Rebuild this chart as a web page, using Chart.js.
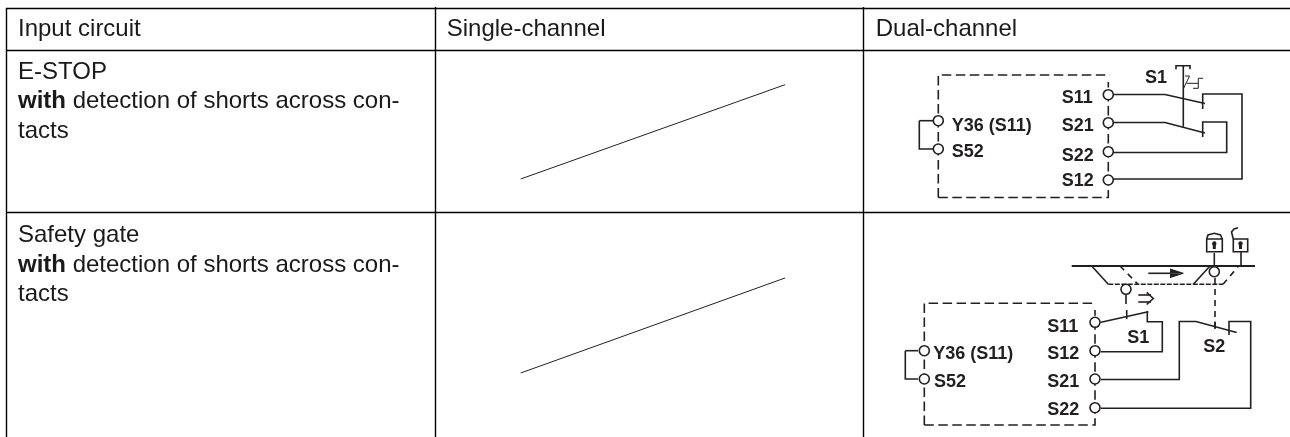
<!DOCTYPE html>
<html>
<head>
<meta charset="utf-8">
<script src="https://cdn.jsdelivr.net/npm/chart.js@4"></script>
<style>
  html,body{margin:0;padding:0;background:#fff;}
  #wrap{position:relative;width:1290px;height:437px;}
  canvas{display:block;}
</style>
</head>
<body>
<div id="wrap"><canvas id="chart" width="1290" height="437"></canvas></div>
<script>
// table rules
const gridLines = [
  [[6,8.5],[1290,8.5]],
  [[6,50.5],[1290,50.5]],
  [[6,212.5],[1290,212.5]],
  [[6.5,8],[6.5,437]],
  [[435.5,7],[435.5,437]],
  [[863.5,7],[863.5,437]]
];
// the struck-out "Single-channel" cells
const strikeLines = [
  [[520.7,179],[785,84.7]],
  [[520.7,373],[785,278]]
];
// E-STOP circuit
const estopWires = [
  [[919.3,120.7],[919.3,149],[933,149]],
  [[919.3,120.7],[933,120.7]],
  [[1113,94.5],[1165,94.5],[1205,103.5]],
  [[1202.7,109],[1202.7,94],[1242,94],[1242,179],[1113,179]],
  [[1113,122.5],[1165,122.5],[1205,133]],
  [[1202.7,137],[1202.7,122],[1226.7,122],[1226.7,152.5],[1113,152.5]],
  [[1183.3,66],[1183.3,126.7]],
  [[1176,69.3],[1176,65.7],[1190,65.7],[1190,69.3]]
];
const estopThin = [
  [[1185,76],[1189.5,76],[1183.5,88.5]],
  [[1186.7,83.3],[1198.3,83.3]],
  [[1193,88.3],[1198.3,88.3],[1198.3,78.3],[1203,78.3]]
];
const estopBox = [
  [[938.3,197.5],[938.3,75],[1110,75]],
  [[938.3,197.5],[1108.3,197.5],[1108.3,82]]
];
// safety gate circuit
const gateWires = [
  [[905.3,350.7],[905.3,379],[918,379]],
  [[905.3,350.7],[918,350.7]],
  [[1101,322.3],[1148.3,311.7]],
  [[1147.3,311],[1147.3,321.7],[1162.3,321.7],[1162.3,351.7],[1101,351.7]],
  [[1101,379.5],[1179.3,379.5],[1179.3,321.5],[1196,321.5],[1236.7,332.5]],
  [[1229,335],[1229,321.5],[1250.7,321.5],[1250.7,408.3],[1101,408.3]],
  [[1126.7,310],[1126.7,319]],
  [[1215,321.5],[1215,329]],
  [[1126,295],[1126,304]],
  [[1214.3,253],[1214.3,266]],
  [[1241,251.7],[1241,266]],
  [[1148.3,273.3],[1170,273.3]],
  [[1138.3,295],[1151,295]],
  [[1138.3,302],[1151,302]],
  [[1146.7,292.3],[1153.3,298.5],[1146.7,304.5]],
  [[1206.7,239],[1222.3,239],[1222.3,251.7],[1206.7,251.7],[1206.7,239]],
  [[1233.3,239],[1247.7,239],[1247.7,251.7],[1233.3,251.7],[1233.3,239]],
  [[1206.7,239],[1208,235],[1214.3,233.3],[1220.5,235],[1222.3,239]],
  [[1233.3,239],[1231.5,232],[1234,229],[1238,227.7]],
  [[1091.7,266],[1108.3,284.3]],
  [[1193.3,284.3],[1210,266]]
];
const gateRail = [[[1071.7,266],[1255,266]]];
const gateBox = [
  [[924.3,425],[924.3,303.3],[1096,303.3]],
  [[924.3,425],[1095,425],[1095,310]]
];
const gateDashes = [
  [[1120,266],[1138,284.3]],
  [[1215,278],[1215,328]],
  [[1223,284.3],[1238,266.7]]
];
const gateFineDash = [[[1108.3,284.3],[1223,284.3]]];
const arrowUpper = [[1170,269],[1183.3,273.3]];
const arrowLower = [[1170,277.6],[1183.3,273.3]];
const keyholes = [[1214.3,243.5],[1240.5,243.5]];
const keySlots = [[[1214.3,244],[1214.3,249]],[[1240.5,244],[1240.5,249]]];
// terminals
const terminals = [
  [938.3,120.7],[938.3,149],
  [1108.3,94.7],[1108.3,122.7],[1108.3,151.7],[1108.3,180],
  [924.3,350.7],[924.3,379],
  [1095,322.3],[1095,350.7],[1095,379],[1095,407.7],
  [1126,289.3],[1214.3,271.7]
];
// texts: [label, x, baseline]
const headerLabels = [['Input circuit',18,36],['Single-channel',446.7,36],['Dual-channel',875.7,36]];
const cellLabels = [['E-STOP',18,79],['tacts',18,138],['Safety gate',18,241.7],['tacts',18,300.7]];
const withLabels = [['detection of shorts across con-',18,108.3],['detection of shorts across con-',18,271.7]];
const termLabels = [
  ['S1',1145,83.3],['S11',1061.7,102.7],['S21',1061.7,131],['S22',1061.7,160.7],['S12',1061.7,186],
  ['Y36 (S11)',951.7,131],['S52',951.7,156.7],
  ['S11',1047.3,331.7],['S12',1047.3,359],['S21',1047.3,386.7],['S22',1047.3,415],
  ['Y36 (S11)',933.3,359],['S52',934,386.7],['S1',1127.3,343.3],['S2',1203.3,352.3]
];

const INK = '#231f20';
const toPts = pts => pts.map(p => ({x:p[0], y:p[1]}));
const lineSet = (pts, width, dash, color) => ({
  type:'line', data:toPts(pts), borderColor:color || INK, borderWidth:width,
  borderDash:dash || [], pointRadius:0, fill:false, tension:0, borderCapStyle:'butt'
});

const datasets = [];
gridLines.forEach(l => datasets.push(lineSet(l, 1.4, null, '#000')));
strikeLines.forEach(l => datasets.push(lineSet(l, 1)));
estopWires.concat(gateWires).forEach(l => datasets.push(lineSet(l, 1.6)));
estopThin.forEach(l => datasets.push(lineSet(l, 1)));
gateRail.forEach(l => datasets.push(lineSet(l, 2)));
estopBox.concat(gateBox).forEach(l => datasets.push(lineSet(l, 1.6, [9.5,4.5])));
gateDashes.forEach(l => datasets.push(lineSet(l, 1.6, [6,5])));
gateFineDash.forEach(l => datasets.push(lineSet(l, 1.6, [5,1.5])));
keySlots.forEach(l => datasets.push(lineSet(l, 3)));
[arrowUpper, arrowLower].forEach(a => datasets.push({type:'line', data:toPts(a), borderColor:INK, borderWidth:1,
  pointRadius:0, backgroundColor:INK, fill:{value:273.3}, tension:0}));
datasets.push({type:'scatter', data:toPts(keyholes), pointRadius:2.2, pointBackgroundColor:INK,
  pointBorderWidth:0, showLine:false});
datasets.push({type:'scatter', data:toPts(terminals), pointRadius:5, pointBackgroundColor:'#fff',
  pointBorderColor:INK, pointBorderWidth:1.6, showLine:false});
// chart.js paints the first dataset last, so terminals go on top of the wires
datasets.reverse();

const SANS = '"Liberation Sans", Arial, sans-serif';
const textPlugin = {
  id:'tableText',
  afterDatasetsDraw(chart){
    const {ctx, scales:{x, y}} = chart;
    ctx.save();
    ctx.textBaseline = 'alphabetic';
    ctx.fillStyle = '#1a1a1a';
    ctx.font = '24px ' + SANS;
    headerLabels.concat(cellLabels).forEach(t => ctx.fillText(t[0], x.getPixelForValue(t[1]), y.getPixelForValue(t[2])));
    withLabels.forEach(t => {
      ctx.font = 'bold 24px ' + SANS;
      const w = ctx.measureText('with ').width;
      ctx.fillText('with ', x.getPixelForValue(t[1]), y.getPixelForValue(t[2]));
      ctx.font = '24px ' + SANS;
      ctx.fillText(t[0], x.getPixelForValue(t[1]) + w, y.getPixelForValue(t[2]));
    });
    ctx.font = 'bold 18px ' + SANS;
    ctx.fillStyle = INK;
    termLabels.forEach(t => ctx.fillText(t[0], x.getPixelForValue(t[1]), y.getPixelForValue(t[2])));
    ctx.restore();
  }
};

new Chart(document.getElementById('chart'), {
  data:{datasets},
  plugins:[textPlugin],
  options:{
    responsive:false, animation:false, clip:false,
    layout:{padding:0, autoPadding:false},
    plugins:{legend:{display:false}, tooltip:{enabled:false}},
    scales:{
      x:{type:'linear', min:0, max:1290, display:false},
      y:{type:'linear', min:0, max:437, reverse:true, display:false}
    }
  }
});
</script>
</body>
</html>
